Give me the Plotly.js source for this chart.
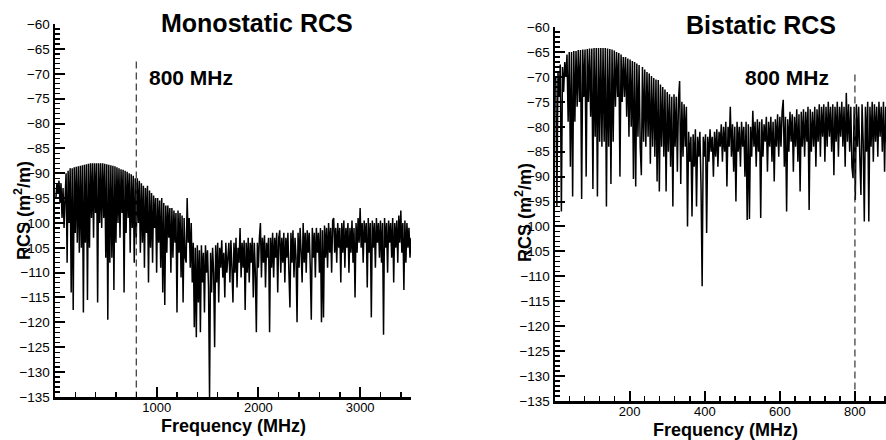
<!DOCTYPE html>
<html>
<head>
<meta charset="utf-8">
<script src="https://cdn.plot.ly/plotly-3.0.1.min.js"></script>
<style>
html,body{margin:0;padding:0;overflow:hidden;background:#fff;width:886px;height:440px;}
#chart{width:960px;height:440px;}
</style>
</head>
<body>
<div id="chart"></div>
<script>
// ---- Monostatic RCS (left panel) ----
const monoFreq = [
10,20,30,40,50,60,70,80,90,100,
110,120,130,140,150,160,170,180,190,200,
210,220,230,240,250,260,270,280,290,300,
310,320,330,340,350,360,370,380,390,400,
410,420,430,440,450,460,470,480,490,500,
510,520,530,540,550,560,570,580,590,600,
610,620,630,640,650,660,670,680,690,700,
710,720,730,740,750,760,770,780,790,800,
810,820,830,840,850,860,870,880,890,900,
910,920,930,940,950,960,970,980,990,1000,
1010,1020,1030,1040,1050,1060,1070,1080,1090,1100,
1110,1120,1130,1140,1150,1160,1170,1180,1190,1200,
1210,1220,1230,1240,1250,1260,1270,1280,1290,1300,
1310,1320,1330,1340,1350,1360,1370,1380,1390,1400,
1410,1420,1430,1440,1450,1460,1470,1480,1490,1500,
1510,1520,1530,1540,1550,1560,1570,1580,1590,1600,
1610,1620,1630,1640,1650,1660,1670,1680,1690,1700,
1710,1720,1730,1740,1750,1760,1770,1780,1790,1800,
1810,1820,1830,1840,1850,1860,1870,1880,1890,1900,
1910,1920,1930,1940,1950,1960,1970,1980,1990,2000,
2010,2020,2030,2040,2050,2060,2070,2080,2090,2100,
2110,2120,2130,2140,2150,2160,2170,2180,2190,2200,
2210,2220,2230,2240,2250,2260,2270,2280,2290,2300,
2310,2320,2330,2340,2350,2360,2370,2380,2390,2400,
2410,2420,2430,2440,2450,2460,2470,2480,2490,2500,
2510,2520,2530,2540,2550,2560,2570,2580,2590,2600,
2610,2620,2630,2640,2650,2660,2670,2680,2690,2700,
2710,2720,2730,2740,2750,2760,2770,2780,2790,2800,
2810,2820,2830,2840,2850,2860,2870,2880,2890,2900,
2910,2920,2930,2940,2950,2960,2970,2980,2990,3000,
3010,3020,3030,3040,3050,3060,3070,3080,3090,3100,
3110,3120,3130,3140,3150,3160,3170,3180,3190,3200,
3210,3220,3230,3240,3250,3260,3270,3280,3290,3300,
3310,3320,3330,3340,3350,3360,3370,3380,3390,3400,
3410,3420,3430,3440,3450,3460,3470,3480,3490,3500
];
const monoRCS = [
-95,-92,-94,-91.5,-96,-92,-99,-93,-101,-95,
-90,-108,-89.5,-100,-89,-114,-89,-117.5,-88.8,-102,
-88.7,-104,-88.6,-106,-88.5,-105,-88.4,-118,-88.3,-104,
-88.2,-115.5,-88.1,-105,-88,-99,-88,-103,-88,-98,
-88,-116,-88,-100,-88,-101,-88,-99,-88.1,-107,
-88.2,-119.5,-88.3,-108,-88.4,-107,-88.5,-113.5,-88.6,-104,
-88.8,-100,-89,-103,-89.2,-98,-89.3,-114,-89.5,-102,
-89.7,-99,-90,-106,-90.2,-101,-90.5,-108,-91,-103,
-91,-100,-91.5,-106,-92,-104,-92.5,-109,-93,-102,
-92.5,-112,-93.5,-105,-94,-108,-94.5,-101,-95,-110,
-95,-104,-95.5,-109,-95,-114,-96,-116.5,-96.5,-106,
-96.5,-103,-97,-110,-97,-107,-97.5,-104,-98,-118,
-97.5,-106,-98,-111,-98.5,-116,-99,-107,-108,-95,
-104,-99,-109,-100,-112,-104,-121,-105,-123,-104.5,
-116,-105.5,-122,-104.5,-112,-106,-118,-104.5,-110,-105.5,
-113,-135,-106,-114,-105,-110,-125,-104.5,-112,-104,
-116,-105,-109,-103.5,-111,-106,-115,-104,-110,-107,
-104,-112,-103.5,-109,-116,-104,-110,-103,-113,-105,
-108,-101,-111,-104,-109,-103.5,-117.5,-104,-110,-103,
-112,-104,-108,-103,-115,-104,-110,-122,-104,-109,
-103,-100,-111,-103,-108,-102.5,-113,-104,-107,-103,
-122,-103,-109,-102,-111,-103,-107,-102,-114,-103,
-101.5,-110,-103,-108,-102,-112,-103,-107,-102,-110,
-117,-102,-108,-101.5,-111,-103,-107,-120,-102,-109,
-101,-106,-112,-100,-108,-102,-110,-101.5,-106,-102,
-109,-119.5,-101,-107,-102,-111,-101,-106,-102,-110,
-101,-120,-101.5,-119,-100.5,-107,-101,-109,-100,-106,
-101,-110,-99.5,-99,-106,-101,-108,-100,-105,-101,
-112,-100,-106,-99.5,-109,-101,-105,-100,-110,-101,
-106,-99.5,-108,-101,-115,-100,-106,-99,-104,-97,
-105,-100,-108,-99.5,-104,-100,-113,-99,-106,-100,
-119,-99.5,-105,-100,-109,-99,-104,-100,-107,-99.5,
-108,-100,-122.5,-99,-105,-100,-110,-99.5,-104,-100,
-107,-99,-112,-100,-105,-99.5,-108,-98.5,-104,-97.5,
-106,-100,-113.5,-99.5,-108,-100,-105,-101,-107,-103
];

// ---- Bistatic RCS (right panel) ----
const biFreq = [
3,6,9,12,15,18,21,24,27,30,
33,36,39,42,45,48,51,54,57,60,
63,66,69,72,75,78,81,84,87,90,
93,96,99,102,105,108,111,114,117,120,
123,126,129,132,135,138,141,144,147,150,
153,156,159,162,165,168,171,174,177,180,
183,186,189,192,195,198,201,204,207,210,
213,216,219,222,225,228,231,234,237,240,
243,246,249,252,255,258,261,264,267,270,
273,276,279,282,285,288,291,294,297,300,
303,306,309,312,315,318,321,324,327,330,
333,336,339,342,345,348,351,354,357,360,
363,366,369,372,375,378,381,384,387,390,
393,396,399,402,405,408,411,414,417,420,
423,426,429,432,435,438,441,444,447,450,
453,456,459,462,465,468,471,474,477,480,
483,486,489,492,495,498,501,504,507,510,
513,516,519,522,525,528,531,534,537,540,
543,546,549,552,555,558,561,564,567,570,
573,576,579,582,585,588,591,594,597,600,
603,606,609,612,615,618,621,624,627,630,
633,636,639,642,645,648,651,654,657,660,
663,666,669,672,675,678,681,684,687,690,
693,696,699,702,705,708,711,714,717,720,
723,726,729,732,735,738,741,744,747,750,
753,756,759,762,765,768,771,774,777,780,
783,786,789,792,795,798,801,804,807,810,
813,816,819,822,825,828,831,834,837,840,
843,846,849,852,855,858,861,864,867,870,
873,876,879,882,885,888,891,894,897,900
];
const biRCS = [
-70,-96,-69,-74,-67.5,-97,-68,-73,-67,-70,
-65.5,-79,-65,-88,-65,-94,-64.8,-79,-64.8,-76,
-64.6,-75,-64.6,-94.5,-64.5,-74,-64.5,-90,-64.4,-75,
-64.3,-78,-64.3,-92.5,-64.2,-82,-64.2,-94,-64.2,-83,
-64.2,-84,-64.2,-83,-64.2,-96,-64.3,-84,-64.4,-91.5,
-64.5,-83,-64.7,-76,-65,-74,-65.2,-90,-65.5,-75,
-66,-74,-66,-78,-66.3,-82,-66.5,-80,-66.8,-90.5,
-67,-92,-67.3,-82,-67.6,-84,-89.7,-68,-83,-68.5,
-84,-69,-82,-69.3,-87.4,-69.8,-84,-70.2,-86,-70.5,
-91,-70.6,-93,-71.5,-84,-72,-86,-72.5,-93,-73,
-85,-73.5,-88,-74,-96,-73.5,-84,-74,-89,-74.5,
-70.8,-91.5,-75,-86,-75.5,-84,-76,-100,-81,-87,
-82,-98,-81.5,-88,-80.5,-96,-82,-86,-81,-92,
-112,-82,-86,-81.5,-101.3,-82,-87,-80.5,-85,-82,
-90,-81,-86,-80.5,-88,-81,-84,-79.5,-87,-80,
-85,-79,-92,-80,-84,-76,-86,-79.5,-89,-80,
-95,-79,-85,-80,-88,-79,-84,-80,-90,-79,
-98.7,-79.5,-98.5,-80,-86,-76.8,-84,-79,-88,-78.5,
-85,-79,-98.3,-78.5,-86,-79.5,-83,-78,-89,-79,
-84,-78,-87,-79,-91,-78.5,-84,-77.5,-86,-78,
-84,-77,-74.6,-88,-78,-97,-78.5,-85,-77,-83,
-77.5,-89,-78,-84,-76.5,-87,-77.5,-93,-77,-84,
-76.5,-86,-77,-83,-76,-96.7,-76.5,-85,-77,-84,
-76,-88,-76.5,-83,-75.5,-86,-76,-82,-75.5,-87,
-76,-84,-75,-82,-76,-85,-75.5,-89.7,-76,-83,
-75,-86,-76,-82,-75,-84,-76,-88,-73.2,-83,
-75.5,-85,-76,-88,-90.3,-76,-94.7,-75.5,-84,-76,
-86,-93.7,-75.5,-83,-99,-76,-85,-75,-99,-76,
-84,-75,-87,-75.5,-83,-76,-86,-75,-82,-76,
-85,-75,-89,-76,-84,-75.5,-86,-76,-83,-75.5
];

// ---- 800 MHz marker lines ----
const markerFreq = 800;
const monoMarkerRCS = [-67.5, -135];
const biMarkerRCS = [-69.5, -135];

// ---- tick labels ----
const monoTicks = [1000, 2000, 3000];
const biTicks = [200, 400, 600, 800];

// ---- text ----
const monoTitle = "Monostatic RCS";
const biTitle = "Bistatic RCS";
const markerLabel = "800 MHz";
const xTitle = "Frequency (MHz)";
const yTitle = "RCS (m<sup>2</sup>/m)";

const W = 960, H = 440;
const FONT = "Liberation Sans, Arial, Helvetica, sans-serif";
const px = v => v / W;
const py = v => 1 - v / H;

const lineStyle = {color: "#000", width: 1.5, simplify: false};
const dashStyle = {color: "#333", width: 1.2, dash: "7px,4px"};

const traces = [
  {x: monoFreq, y: monoRCS, type: "scatter", mode: "lines", line: lineStyle, xaxis: "x", yaxis: "y", hoverinfo: "skip"},
  {x: [markerFreq, markerFreq], y: monoMarkerRCS, type: "scatter", mode: "lines", line: dashStyle, xaxis: "x", yaxis: "y", hoverinfo: "skip"},
  {x: biFreq, y: biRCS, type: "scatter", mode: "lines", line: lineStyle, xaxis: "x2", yaxis: "y2", hoverinfo: "skip"},
  {x: [markerFreq, markerFreq], y: biMarkerRCS, type: "scatter", mode: "lines", line: dashStyle, xaxis: "x2", yaxis: "y2", hoverinfo: "skip"}
];

function xAxis(domain, range, tickvals, minorDtick, anchor) {
  return {
    domain: domain, range: range, anchor: anchor,
    tickmode: "array", tickvals: tickvals, ticktext: tickvals.map(String),
    ticks: "inside", ticklen: 10, tickwidth: 2, tickcolor: "#000",
    ticklabelstandoff: -3,
    showline: true, linecolor: "#000", linewidth: 2.5,
    showgrid: false, zeroline: false, automargin: false,
    tickfont: {family: FONT, size: 13, color: "#000"},
    minor: {tickmode: "linear", dtick: minorDtick, tick0: 0, ticks: "inside", ticklen: 5, tickwidth: 1.5, tickcolor: "#000", showgrid: false}
  };
}
function yAxis(domain, anchor) {
  return {
    domain: domain, range: [-135.02, -59.98], anchor: anchor, tick0: -135, dtick: 5,
    ticks: "inside", ticklen: 10, tickwidth: 2, tickcolor: "#000",
    showline: true, linecolor: "#000", linewidth: 2.5,
    showgrid: false, zeroline: false, automargin: false,
    tickfont: {family: FONT, size: 13.5, color: "#000"},
    minor: {dtick: 1, ticks: "inside", ticklen: 5, tickwidth: 1.2, tickcolor: "#000", showgrid: false}
  };
}

function ann(text, x, y, size, angle) {
  return {text: "<b>" + text + "</b>", xref: "paper", yref: "paper", x: px(x), y: py(y),
    xanchor: "center", yanchor: "middle", showarrow: false, textangle: angle || 0,
    font: {family: FONT, size: size, color: "#000"}};
}

const layout = {
  width: W, height: H,
  margin: {l: 0, r: 0, t: 0, b: 0, pad: 0},
  paper_bgcolor: "#fff", plot_bgcolor: "#fff",
  showlegend: false,
  xaxis: xAxis([px(55), px(411)], [1, 3500], monoTicks, 200, "y"),
  yaxis: yAxis([1 - 397 / H, 1 - 24 / H], "x"),
  xaxis2: xAxis([px(555), px(930)], [1, 1000], biTicks, 40, "y2"),
  yaxis2: yAxis([1 - 401 / H, 1 - 27 / H], "x2"),
  annotations: [
    ann(monoTitle, 257, 23, 25),
    ann(biTitle, 761, 25, 25),
    ann(markerLabel, 191, 78, 21),
    ann(markerLabel, 787, 77, 21),
    ann(xTitle, 233, 426, 18),
    ann(xTitle, 725, 430, 18),
    ann(yTitle, 23, 211, 18, -90),
    ann(yTitle, 523, 213, 18, -90)
  ]
};

Plotly.newPlot("chart", traces, layout, {staticPlot: true, displayModeBar: false});
</script>
</body>
</html>
